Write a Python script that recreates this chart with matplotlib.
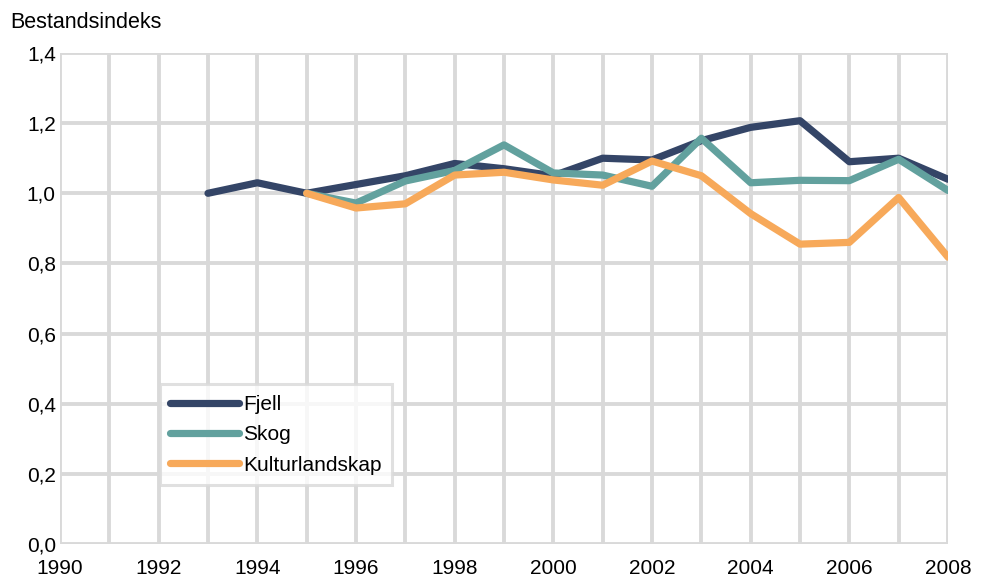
import matplotlib
matplotlib.use("Agg")
import matplotlib.pyplot as plt
from matplotlib.ticker import FuncFormatter, MultipleLocator

plt.rcParams['font.family'] = ['Liberation Sans', 'DejaVu Sans']

years_fjell = [1993, 1994, 1995, 1996, 1997, 1998, 1999, 2000, 2001, 2002, 2003, 2004, 2005, 2006, 2007, 2008]
fjell = [1.00, 1.03, 1.00, 1.025, 1.05, 1.085, 1.07, 1.05, 1.10, 1.095, 1.15, 1.188, 1.207, 1.09, 1.10, 1.04]

years_other = [1995, 1996, 1997, 1998, 1999, 2000, 2001, 2002, 2003, 2004, 2005, 2006, 2007, 2008]
skog = [1.00, 0.972, 1.035, 1.065, 1.138, 1.058, 1.052, 1.02, 1.157, 1.03, 1.037, 1.036, 1.097, 1.008]
kultur = [1.00, 0.958, 0.97, 1.052, 1.06, 1.038, 1.023, 1.092, 1.05, 0.942, 0.855, 0.86, 0.988, 0.818]

series_names = ["Fjell", "Skog", "Kulturlandskap"]
colors = ["#344567", "#62A19E", "#F7A95A"]
xticks = list(range(1990, 2009, 2))
yticks = [0.0, 0.2, 0.4, 0.6, 0.8, 1.0, 1.2, 1.4]

fig = plt.figure(figsize=(9.82, 5.78), dpi=100)
ax = fig.add_axes([60/982, 34/578, 888/982, 491/578])

lw = 5.2
ax.plot(years_fjell, fjell, color=colors[0], lw=lw, label=series_names[0], zorder=3, solid_capstyle='round')
ax.plot(years_other, skog, color=colors[1], lw=lw, label=series_names[1], zorder=3, solid_capstyle='round')
ax.plot(years_other, kultur, color=colors[2], lw=lw, label=series_names[2], zorder=3, solid_capstyle='round')

ax.set_xlim(1990, 2008)
ax.set_ylim(0, 1.4)
ax.set_xticks(xticks)
ax.xaxis.set_minor_locator(MultipleLocator(1))
ax.set_yticks(yticks)
ax.yaxis.set_major_formatter(FuncFormatter(lambda v, p: f"{v:.1f}".replace('.', ',')))

ax.grid(which='both', axis='x', color='#D9D9D9', lw=2.8, zorder=0)
ax.grid(which='major', axis='y', color='#D9D9D9', lw=2.8, zorder=0)
ax.set_axisbelow(True)
for s in ax.spines.values():
    s.set_visible(False)
ax.tick_params(which='both', length=0, labelsize=15, colors='#000000')
ax.tick_params(axis='x', pad=11)
ax.tick_params(axis='y', pad=3)

fig.text(10/982, 1 - 22/578, "Bestandsindeks", fontsize=15.5, va='center', ha='left')

leg = ax.legend(loc='upper left', bbox_to_anchor=(0.1126, 0.325), fontsize=15,
                frameon=True, fancybox=False, edgecolor='#D9D9D9', handlelength=3.3,
                handletextpad=0.2, borderpad=0.5, labelspacing=0.55, borderaxespad=0)
leg.get_frame().set_linewidth(2.2)
leg.set_zorder(5)

fig.savefig("out.png", dpi=100)
